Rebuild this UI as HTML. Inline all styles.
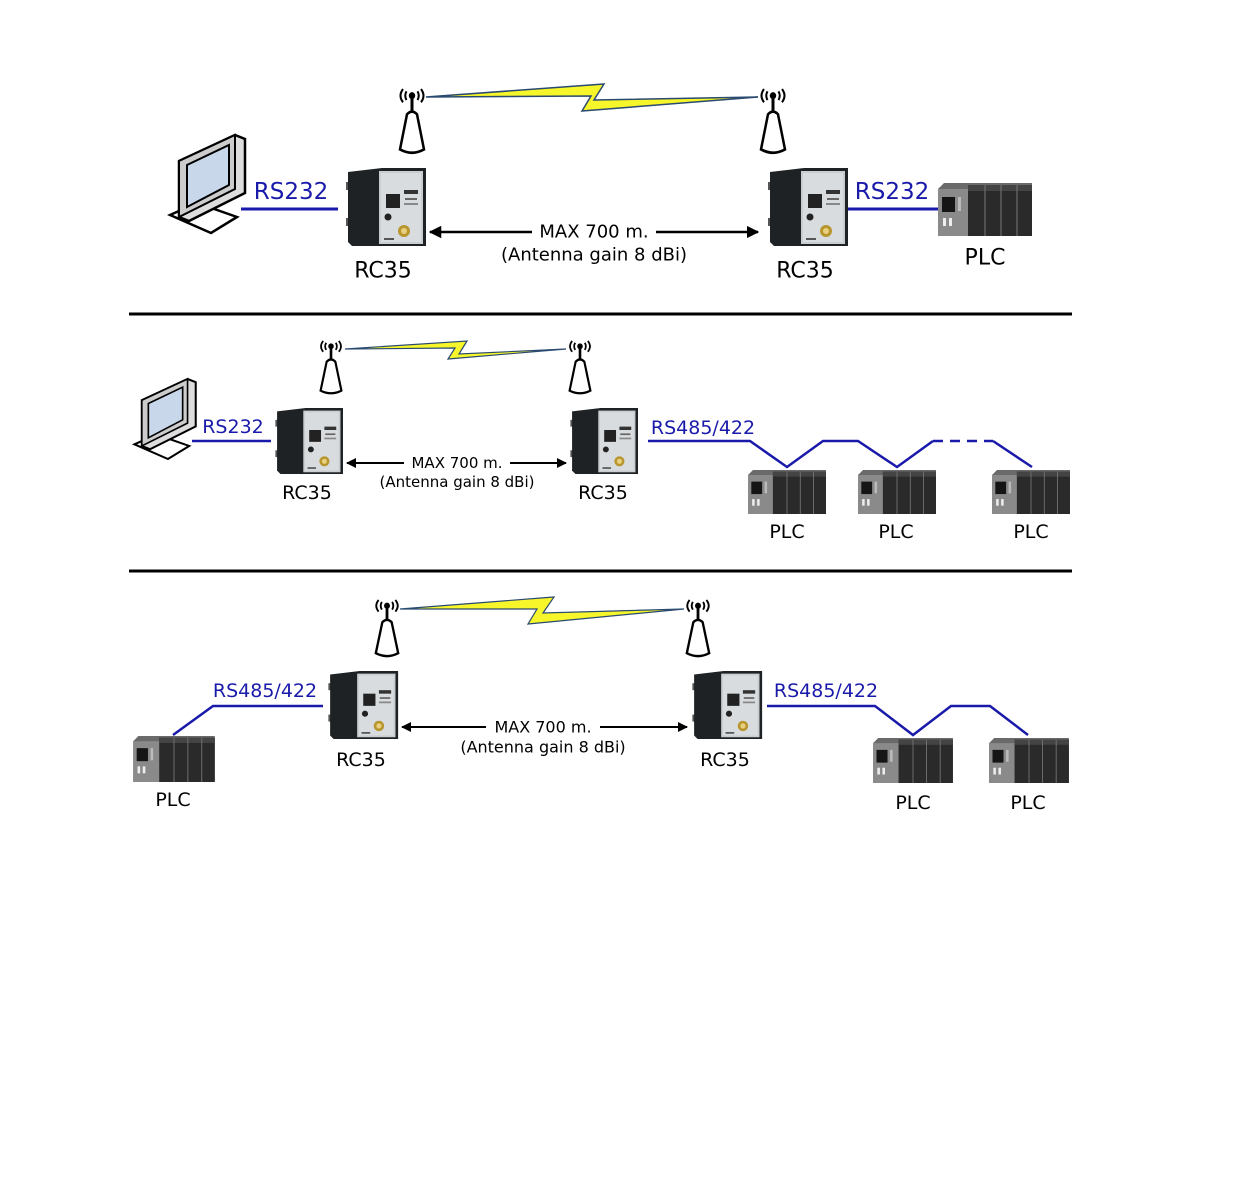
<!DOCTYPE html>
<html><head><meta charset="utf-8"><style>
html,body{margin:0;padding:0;background:#fff;}
svg{display:block;font-family:"Liberation Sans","DejaVu Sans",sans-serif;}
.t{fill:#000;text-anchor:middle;dominant-baseline:central;font-family:"DejaVu Sans","Liberation Sans",sans-serif;}
.b{fill:#1a1aaa;text-anchor:middle;dominant-baseline:central;font-family:"DejaVu Sans","Liberation Sans",sans-serif;}
</style></head><body>
<svg width="1240" height="1177" viewBox="0 0 1240 1177" xmlns="http://www.w3.org/2000/svg">
<defs>
<marker id="ah" viewBox="0 0 10 10" refX="9" refY="5" markerWidth="5" markerHeight="5" orient="auto-start-reverse"><path d="M0,0 L10,5 L0,10 z" fill="#000"/></marker>
<symbol id="rc" viewBox="0 0 84 78">
 <rect x="4" y="14" width="4" height="8" fill="#555"/><rect x="4" y="50" width="4" height="8" fill="#555"/>
 <path d="M6,4 L40,0 L84,0 L84,78 L10,78 L6,74 Z" fill="#1e2224"/>
 <rect x="37" y="3" width="44" height="73" fill="#c9cdd0"/>
 <rect x="39" y="5" width="40" height="69" fill="#d8dcde"/>
 <rect x="44" y="26" width="14" height="14" fill="#222"/>
 <rect x="62" y="22" width="14" height="4" fill="#333"/>
 <rect x="63" y="30" width="12" height="2" fill="#666"/>
 <rect x="62" y="35" width="14" height="2" fill="#888"/>
 <circle cx="46" cy="49" r="3.5" fill="#222"/>
 <circle cx="62" cy="63" r="6" fill="#b8962e"/><circle cx="62" cy="63" r="3" fill="#e8d080"/>
 <rect x="42" y="70" width="10" height="2" fill="#555"/>
</symbol>
<symbol id="plc" viewBox="0 0 94 53">
 <path d="M0,6 L6,0 L94,0 L94,53 L0,53 Z" fill="#6a6a6a"/>
 <rect x="0" y="6" width="30" height="47" fill="#8a8a8a"/>
 <rect x="4" y="14" width="13" height="15" fill="#151515"/>
 <rect x="20" y="14" width="3" height="14" fill="#bbb"/>
 <rect x="5" y="35" width="3" height="8" fill="#eee"/><rect x="11" y="35" width="3" height="8" fill="#eee"/>
 <rect x="30" y="2" width="64" height="51" fill="#2a2a2a"/>
 <rect x="30" y="2" width="64" height="6" fill="#444"/>
 <line x1="47" y1="2" x2="47" y2="53" stroke="#777" stroke-width="1"/>
 <line x1="63" y1="2" x2="63" y2="53" stroke="#777" stroke-width="1"/>
 <line x1="79" y1="2" x2="79" y2="53" stroke="#777" stroke-width="1"/>
</symbol>
<symbol id="pc" viewBox="0 0 82 102">
 <path d="M3,82 L30,70 L70,84 L44,100 Z" fill="#fff" stroke="#000" stroke-width="2.5"/>
 <path d="M12,28 L68,2 L78,6 L78,60 L22,88 L12,84 Z" fill="#ddd" stroke="#000" stroke-width="2.5"/>
 <path d="M12,28 L68,2 L68,56 L12,84 Z" fill="#ccc" stroke="#000" stroke-width="2"/>
 <path d="M20,32 L62,12 L62,52 L20,74 Z" fill="#c8d8ea" stroke="#000" stroke-width="2"/>
</symbol>
<symbol id="ant" viewBox="0 0 30 62" preserveAspectRatio="none">
 <path d="M6,1 Q1,7 6,13 M9.5,3 Q7,7 9.5,11 M24,1 Q29,7 24,13 M20.5,3 Q23,7 20.5,11" fill="none" stroke="#000" stroke-width="2"/>
 <circle cx="15" cy="7" r="3.2" fill="#000"/>
 <line x1="15" y1="7" x2="15" y2="22" stroke="#000" stroke-width="3"/>
 <path d="M10,24 Q15,19 20,24 L27,56 Q15,62 3,56 Z" fill="#fff" stroke="#000" stroke-width="2.5"/>
</symbol>
</defs>

<!-- SECTION 1 -->
<polygon points="426,97 604,84 594,100 758,97 582,111 591,96" fill="#f6f62a" stroke="#2a4a70" stroke-width="1.5"/>
<use href="#ant" x="397" y="88" width="30" height="68"/>
<use href="#ant" x="758" y="88" width="30" height="68"/>
<use href="#pc" x="167" y="133" width="82" height="102"/>
<use href="#rc" x="342" y="168" width="84" height="78"/>
<use href="#rc" x="764" y="168" width="84" height="78"/>
<use href="#plc" x="938" y="183" width="94" height="53"/>
<line x1="241" y1="209" x2="338" y2="209" stroke="#1a1aaa" stroke-width="3"/>
<line x1="848" y1="209" x2="938" y2="209" stroke="#1a1aaa" stroke-width="3"/>
<text class="b" x="291" y="192" font-size="23">RS232</text>
<text class="b" x="892" y="192" font-size="23">RS232</text>
<line x1="430" y1="232" x2="532" y2="232" stroke="#000" stroke-width="2.5" marker-start="url(#ah)"/>
<line x1="656" y1="232" x2="758" y2="232" stroke="#000" stroke-width="2.5" marker-end="url(#ah)"/>
<text class="t" x="594" y="232" font-size="18">MAX 700 m.</text>
<text class="t" x="594" y="255" font-size="18">(Antenna gain 8 dBi)</text>
<text class="t" x="383" y="271" font-size="22">RC35</text>
<text class="t" x="805" y="271" font-size="22">RC35</text>
<text class="t" x="985" y="258" font-size="22">PLC</text>

<line x1="129" y1="314" x2="1072" y2="314" stroke="#000" stroke-width="3"/>

<!-- SECTION 2 -->
<polygon points="345,349 467,341 459,354 566,349 448,359 455,348" fill="#f6f62a" stroke="#2a4a70" stroke-width="1.2"/>
<use href="#ant" x="318" y="340" width="26" height="56"/>
<use href="#ant" x="567" y="340" width="26" height="56"/>
<use href="#pc" x="132" y="377" width="67" height="84"/>
<use href="#rc" x="272" y="408" width="71" height="66"/>
<use href="#rc" x="567" y="408" width="71" height="66"/>
<line x1="192" y1="441" x2="271" y2="441" stroke="#1a1aaa" stroke-width="2.5"/>
<text class="b" x="233" y="427" font-size="19">RS232</text>
<text class="b" x="703" y="428" font-size="19">RS485/422</text>
<polyline points="648,441 750,441 787,467 823,441 858,441 897,467 933,441" fill="none" stroke="#1a1aaa" stroke-width="2.5"/>
<line x1="933" y1="441" x2="993" y2="441" stroke="#1a1aaa" stroke-width="2.5" stroke-dasharray="10,7"/>
<line x1="993" y1="441" x2="1032" y2="467" stroke="#1a1aaa" stroke-width="2.5"/>
<use href="#plc" x="748" y="470" width="78" height="44"/>
<use href="#plc" x="858" y="470" width="78" height="44"/>
<use href="#plc" x="992" y="470" width="78" height="44"/>
<line x1="347" y1="463" x2="404" y2="463" stroke="#000" stroke-width="2" marker-start="url(#ah)"/>
<line x1="510" y1="463" x2="566" y2="463" stroke="#000" stroke-width="2" marker-end="url(#ah)"/>
<text class="t" x="457" y="463" font-size="15">MAX 700 m.</text>
<text class="t" x="457" y="482" font-size="15">(Antenna gain 8 dBi)</text>
<text class="t" x="307" y="493" font-size="19">RC35</text>
<text class="t" x="603" y="493" font-size="19">RC35</text>
<text class="t" x="787" y="532" font-size="19">PLC</text>
<text class="t" x="896" y="532" font-size="19">PLC</text>
<text class="t" x="1031" y="532" font-size="19">PLC</text>

<line x1="129" y1="571" x2="1072" y2="571" stroke="#000" stroke-width="3"/>

<!-- SECTION 3 -->
<polygon points="400,609 554,597 543,613 684,609 528,624 537,609" fill="#f6f62a" stroke="#2a4a70" stroke-width="1.2"/>
<use href="#ant" x="373" y="599" width="28" height="60"/>
<use href="#ant" x="684" y="599" width="28" height="60"/>
<use href="#rc" x="324" y="671" width="75" height="68"/>
<use href="#rc" x="688" y="671" width="75" height="68"/>
<polyline points="173,735 213,706 323,706" fill="none" stroke="#1a1aaa" stroke-width="2.5"/>
<polyline points="767,706 875,706 913,735 951,706 990,706 1028,735" fill="none" stroke="#1a1aaa" stroke-width="2.5"/>
<text class="b" x="265" y="691" font-size="19">RS485/422</text>
<text class="b" x="826" y="691" font-size="19">RS485/422</text>
<use href="#plc" x="133" y="736" width="82" height="46"/>
<use href="#plc" x="873" y="738" width="80" height="45"/>
<use href="#plc" x="988" y="738" width="82" height="45"/>
<line x1="402" y1="727" x2="486" y2="727" stroke="#000" stroke-width="2" marker-start="url(#ah)"/>
<line x1="600" y1="727" x2="687" y2="727" stroke="#000" stroke-width="2" marker-end="url(#ah)"/>
<text class="t" x="543" y="727" font-size="16">MAX 700 m.</text>
<text class="t" x="543" y="747" font-size="16">(Antenna gain 8 dBi)</text>
<text class="t" x="361" y="760" font-size="19">RC35</text>
<text class="t" x="725" y="760" font-size="19">RC35</text>
<text class="t" x="173" y="800" font-size="19">PLC</text>
<text class="t" x="913" y="803" font-size="19">PLC</text>
<text class="t" x="1028" y="803" font-size="19">PLC</text>
</svg>
</body></html>
